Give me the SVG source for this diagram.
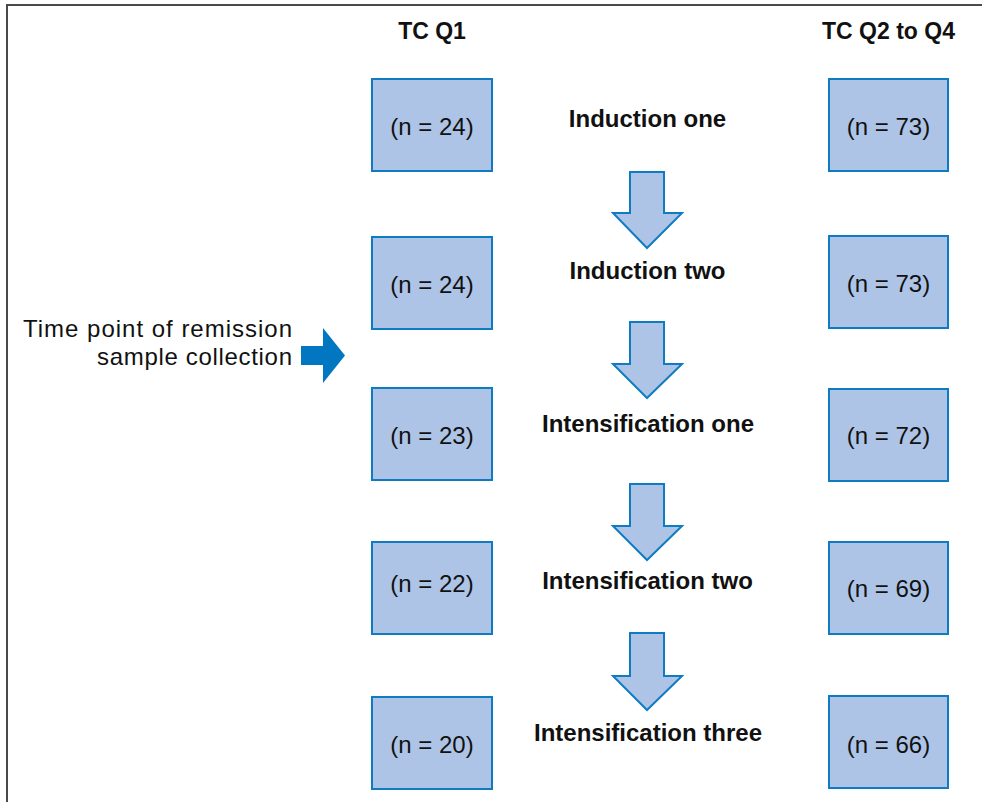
<svg xmlns="http://www.w3.org/2000/svg" width="982" height="802" viewBox="0 0 982 802">
<style>
.frame{stroke:#4a4a4a;stroke-width:2;fill:none}
.box{fill:#aec4e6;stroke:#0f7cc2;stroke-width:2}
.arr{fill:#aec4e6;stroke:#0f7cc2;stroke-width:2;stroke-linejoin:miter}
.n{font-family:"Liberation Sans",Arial,sans-serif;font-size:24px;fill:#111;text-anchor:middle}
.h{font-family:"Liberation Sans",Arial,sans-serif;font-size:23px;font-weight:bold;fill:#111;text-anchor:middle}
.lbl{font-family:"Liberation Sans",Arial,sans-serif;font-size:24px;font-weight:bold;fill:#111;text-anchor:middle}
.side{font-family:"Liberation Sans",Arial,sans-serif;font-size:24px;fill:#111;text-anchor:end}
</style>
<rect width="982" height="802" fill="#fff"/>
<path class="frame" d="M7 802 V5 H982"/>
<g id="headers">
<text class="h" x="432" y="39">TC Q1</text>
<text class="h" x="888.5" y="39">TC Q2 to Q4</text>
</g>
<g id="remission-label">
<text class="side" x="292" y="337" textLength="269" lengthAdjust="spacing">Time point of remission</text>
<text class="side" x="292" y="365" textLength="195" lengthAdjust="spacing">sample collection</text>
<path d="M301 346 H323 V328 L345 355.5 L323 383 V365 H301 Z" fill="#0077c0"/>
</g>
<g id="q1-r1"><rect class="box" x="372" y="79" width="120" height="92"/><text class="n" x="432" y="135">(n = 24)</text></g>
<g id="q1-r2"><rect class="box" x="372" y="237" width="120" height="92"/><text class="n" x="432" y="293">(n = 24)</text></g>
<g id="q1-r3"><rect class="box" x="372" y="388" width="120" height="92"/><text class="n" x="432" y="444">(n = 23)</text></g>
<g id="q1-r4"><rect class="box" x="372" y="542" width="120" height="92"/><text class="n" x="432" y="592">(n = 22)</text></g>
<g id="q1-r5"><rect class="box" x="372" y="697" width="120" height="92"/><text class="n" x="432" y="753">(n = 20)</text></g>
<g id="q24-r1"><rect class="box" x="829" y="79" width="119" height="92"/><text class="n" x="888.5" y="135">(n = 73)</text></g>
<g id="q24-r2"><rect class="box" x="829" y="236" width="119" height="92"/><text class="n" x="888.5" y="292">(n = 73)</text></g>
<g id="q24-r3"><rect class="box" x="829" y="389" width="119" height="92"/><text class="n" x="888.5" y="444">(n = 72)</text></g>
<g id="q24-r4"><rect class="box" x="829" y="542" width="119" height="92"/><text class="n" x="888.5" y="597">(n = 69)</text></g>
<g id="q24-r5"><rect class="box" x="829" y="696" width="119" height="92"/><text class="n" x="888.5" y="753">(n = 66)</text></g>
<g id="phase-1"><text class="lbl" x="647.5" y="127">Induction one</text></g>
<g id="phase-2"><text class="lbl" x="647.5" y="279">Induction two</text></g>
<g id="phase-3"><text class="lbl" x="648" y="432">Intensification one</text></g>
<g id="phase-4"><text class="lbl" x="647.5" y="589">Intensification two</text></g>
<g id="phase-5"><text class="lbl" x="648" y="741">Intensification three</text></g>
<g id="connectors">
<path class="arr" d="M630 172 H664 V213 H682 L647 248 L613 213 H630 Z"/>
<path class="arr" d="M630 322 H664 V364 H682 L647 398 L613 364 H630 Z"/>
<path class="arr" d="M630 484 H664 V526 H682 L647 560 L613 526 H630 Z"/>
<path class="arr" d="M630 633 H664 V676 H682 L647 710 L613 676 H630 Z"/>
</g>
</svg>
